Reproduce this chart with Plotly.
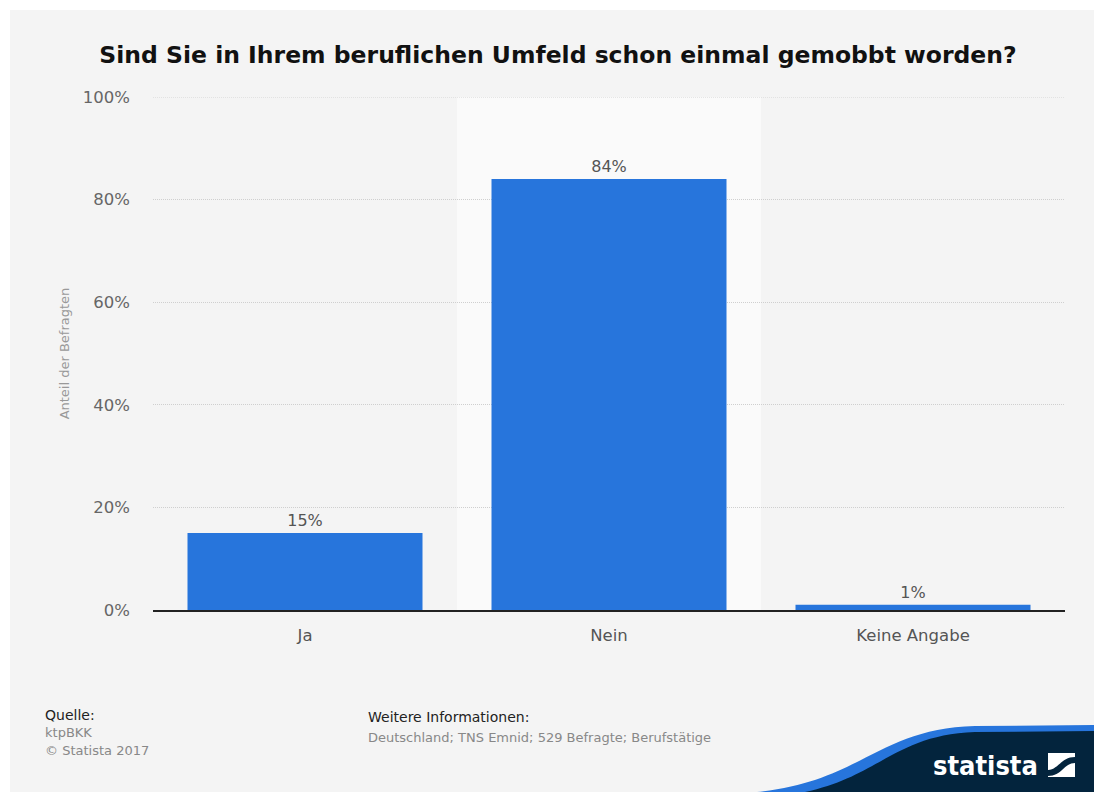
import plotly.graph_objects as go

categories = ["Ja", "Nein", "Keine Angabe"]
values = [15, 84, 1]
tick_vals = [0, 20, 40, 60, 80, 100]
tick_text = ["0%", "20%", "40%", "60%", "80%", "100%"]

W, H = 1094, 792
L, R, T, B = 153, 1065, 97, 610

def px(x):
    return (x - L) / (R - L)

def py(y):
    return (B - y) / (B - T)

fig = go.Figure()
fig.add_trace(go.Bar(
    x=categories, y=values,
    marker=dict(color="#2775dc", line=dict(width=0)),
    width=0.773,
    text=[f"{v}%" for v in values],
    textposition="outside",
    textfont=dict(family="DejaVu Sans", size=16, color="#555555"),
    cliponaxis=False,
    hoverinfo="skip",
))

shapes = []
# white outer border strips
shapes.append(dict(type="rect", xref="paper", yref="paper", x0=px(0), x1=px(W), y0=py(0), y1=py(10),
                   fillcolor="white", line=dict(width=0), layer="below"))
shapes.append(dict(type="rect", xref="paper", yref="paper", x0=px(0), x1=px(10), y0=py(0), y1=py(H),
                   fillcolor="white", line=dict(width=0), layer="below"))
# highlight band behind Nein
shapes.append(dict(type="rect", xref="x", yref="paper", x0=0.5, x1=1.5, y0=0, y1=1,
                   fillcolor="#fafafa", line=dict(width=0), layer="below"))

# logo swoosh
blue = (f"M {px(757)},{py(792)} C {px(860)},{py(782)} {px(880)},{py(728)} {px(975)},{py(726)} "
        f"L {px(1094)},{py(725)} L {px(1094)},{py(792)} Z")
navy = (f"M {px(805)},{py(792)} C {px(880)},{py(776)} {px(895)},{py(735)} {px(975)},{py(732)} "
        f"L {px(1094)},{py(731)} L {px(1094)},{py(792)} Z")
shapes.append(dict(type="path", xref="paper", yref="paper", path=blue, fillcolor="#2775dc", line=dict(width=0)))
shapes.append(dict(type="path", xref="paper", yref="paper", path=navy, fillcolor="#03243d", line=dict(width=0)))
# logo icon
shapes.append(dict(type="rect", xref="paper", yref="paper", x0=px(1048), x1=px(1075), y0=py(777), y1=py(753),
                   fillcolor="white", line=dict(width=0)))
icon = (f"M {px(1048)},{py(770)} C {px(1058)},{py(770)} {px(1061)},{py(757)} {px(1075)},{py(757)} "
        f"L {px(1075)},{py(763)} C {px(1064)},{py(763)} {px(1062)},{py(776)} {px(1048)},{py(776)} Z")
shapes.append(dict(type="path", xref="paper", yref="paper", path=icon, fillcolor="#03243d", line=dict(width=0)))
# top gridline at 100% (kept visible at the range edge)
shapes.append(dict(type="line", xref="paper", yref="y", x0=0, x1=1, y0=100, y1=100,
                   line=dict(color="#cfcfcf", width=1, dash="1px,1px"), layer="below"))

annotations = [
    dict(text="Quelle:", x=px(43), y=py(715), xanchor="left", yanchor="middle",
         font=dict(family="DejaVu Sans", size=14, color="#222222")),
    dict(text="ktpBKK", x=px(43), y=py(732), xanchor="left", yanchor="middle",
         font=dict(family="DejaVu Sans", size=13, color="#888888")),
    dict(text="© Statista 2017", x=px(43), y=py(750), xanchor="left", yanchor="middle",
         font=dict(family="DejaVu Sans", size=13, color="#888888")),
    dict(text="Weitere Informationen:", x=px(366), y=py(717), xanchor="left", yanchor="middle",
         font=dict(family="DejaVu Sans", size=14, color="#222222")),
    dict(text="Deutschland; TNS Emnid; 529 Befragte; Berufstätige", x=px(366), y=py(737),
         xanchor="left", yanchor="middle",
         font=dict(family="DejaVu Sans", size=13, color="#888888")),
    dict(text="<b>statista</b>", x=px(1040), y=py(765), xanchor="right", yanchor="middle",
         font=dict(family="DejaVu Sans Condensed, DejaVu Sans", size=27, color="white")),
]
for a in annotations:
    a.update(xref="paper", yref="paper", showarrow=False)

fig.update_layout(
    width=W, height=H,
    margin=dict(l=L, r=W - R, t=T, b=H - B, pad=0),
    paper_bgcolor="#f4f4f4",
    plot_bgcolor="rgba(0,0,0,0)",
    showlegend=False,
    hovermode=False,
    title=dict(text="<b>Sind Sie in Ihrem beruflichen Umfeld schon einmal gemobbt worden?</b>",
               x=558 / W, xanchor="center", y=1 - 55 / H, yanchor="middle",
               font=dict(family="DejaVu Sans", size=23.5, color="#111111")),
    shapes=shapes,
    annotations=annotations,
    bargap=0.227,
)
fig.update_xaxes(
    showgrid=False, showline=True, linecolor="#222222", linewidth=1.5,
    ticks="", tickfont=dict(family="DejaVu Sans", size=16.5, color="#555555"),
    ticklabelstandoff=9, zeroline=False,
)
fig.update_yaxes(
    range=[0, 100], tickvals=tick_vals, ticktext=tick_text,
    showgrid=True, gridcolor="#cfcfcf", griddash="1px,1px", gridwidth=1,
    zeroline=False, showline=False, ticks="",
    tickfont=dict(family="DejaVu Sans", size=16.5, color="#666666"),
    ticklabelstandoff=22,
    title=dict(text="Anteil der Befragten", standoff=10,
               font=dict(family="DejaVu Sans", size=13, color="#999999")),
)

fig.write_html("out.html", config={"displayModeBar": False},
               post_script="document.body.style.margin='0';document.body.style.padding='0';")
